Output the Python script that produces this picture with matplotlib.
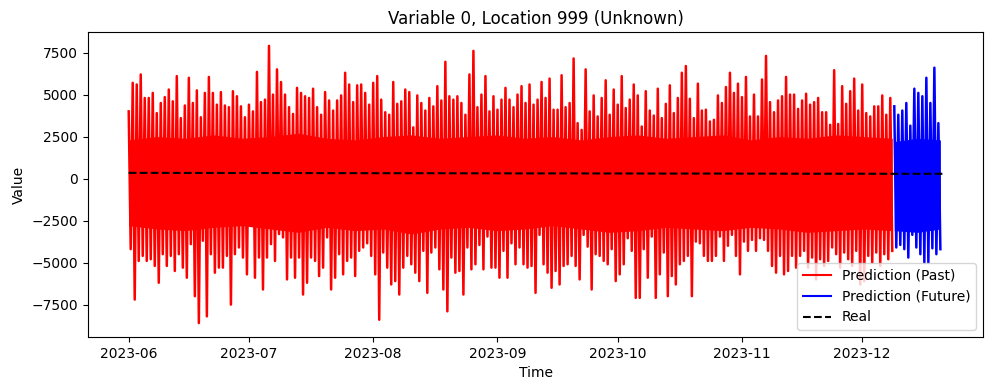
import numpy as np
import pandas as pd
import matplotlib
matplotlib.use("Agg")
import matplotlib.pyplot as plt

# Daily spike heights (past window, 2023-06-01 .. 2023-12-09)
past_high = [
    4000, 5700, 5600, 6200, 4800, 4800, 5100, 3900, 4500, 4850, 5300, 4600, 6100, 3600, 4350,
    6000, 4500, 5250, 3650, 5100, 6050, 5100, 4400, 5150, 4350, 4250, 5200, 4900, 4300,
    3650, 4400, 4000, 6350, 4550, 4700, 7900, 5000, 6500, 5750, 5000, 4250, 3850, 5400, 5100,
    4900, 4800, 5350, 4250, 3800, 5150, 4650, 4050, 4650, 4950, 6300, 5600, 4550, 5550,
    5600, 5100, 4400, 5700, 6100, 4700, 3950, 3800, 5750, 4450, 4600, 5300, 5150, 3050, 4950,
    4500, 4050, 4800, 4300, 5500, 4650, 6950, 4900, 4700, 4900, 4500, 3800, 6200, 7600,
    4250, 5000, 6100, 4000, 4900, 4100, 4700, 5400, 4700, 4250, 5000, 5500, 4500, 5600, 4400,
    4700, 5750, 4800, 5950, 4100, 4100, 6150, 4250, 4500, 7150, 3300, 2900, 6500, 4000,
    4950, 3700, 4800, 5850, 3800, 5300, 4400, 6100, 4200, 4700, 5600, 4950, 3100, 5200, 4050,
    3750, 5350, 3600, 4450, 5550, 3900, 4800, 6300, 6700, 4750, 3600, 5650, 4050, 4100,
    3400, 3500, 4950, 4500, 5450, 6300, 5100, 5650, 4850, 6050, 3700, 5000, 3700, 5900, 7300,
    4550, 3950, 4650, 4900, 6050, 5000, 5000, 4150, 4650, 5050, 4400, 4550, 4800, 3950,
    3950, 3200, 6450, 3250, 5500, 4450, 5200, 5950, 4050, 5600, 3900, 3700, 4300, 4300, 4950,
    3800, 4800,
]
past_low = [
    -4200, -7200, -4900, -4600, -4900, -4800, -5200, -6200, -4500, -5200, -4600, -5500, -4500,
    -5300, -5900, -3900, -7000, -8600, -3700, -8200, -4500, -5600, -5300, -5300, -4600, -7500,
    -4500, -4100, -4700,
    -5700, -2700, -5900, -4700, -6600, -4700, -3900, -4900, -3300, -3500, -6000, -4700, -5900,
    -4700, -6900, -6200, -4700, -4900, -5800, -5300, -3500, -6600, -5900, -4500, -5700, -4900,
    -4700, -5800, -4300,
    -4100, -3850, -4600, -5700, -8400, -4400, -5300, -6300, -6100, -6900, -5300, -4600, -5100,
    -5600, -6100, -4300, -6800, -4400, -4100, -5400, -6600, -7900, -4700, -5600, -5500, -6900,
    -4100, -5400, -5100,
    -3950, -5400, -3450, -5300, -5300, -5900, -4300, -5900, -3850, -5100, -4100, -5100, -5300,
    -5200, -6800, -3350, -5100, -5600, -6500, -5500, -6300, -5200, -5100, -4600, -5200, -6000,
    -3350, -4050, -6600,
    -4500, -4600, -4900, -5100, -4200, -6100, -5700, -5100, -3550, -4300, -7100, -7100, -4200,
    -5900, -3450, -7100, -5700, -4400, -7000, -5800, -6300, -5100, -4900, -4600, -7000, -3750,
    -3850, -4600, -4900,
    -4900, -4600, -3450, -4900, -4000, -3350, -4600, -5700, -3750, -4300, -3650, -4300, -3550,
    -3650, -4300, -5200, -5600, -4600, -5700, -5500, -4600, -5300, -4600, -4300, -5300, -4700,
    -6000, -4800, -5200,
    -4900, -4100, -4500, -5300, -4400, -4800, -5200, -4300, -6300, -6100, -4600, -5000, -4400,
    -5200, -4500, -4800, -4300,
]

# dense band where most hourly values sit (roughly weekly readings)
past_core_upper = [2300, 2500, 2400, 2600, 2400, 2500, 2700, 2400, 2300, 2500, 2600, 2400,
                   2500, 2600, 2400, 2500, 2300, 2500, 2600, 2400, 2500, 2600, 2300, 2500,
                   2400, 2600, 2500, 2400]
past_core_lower = [-2800, -3000, -3100, -2900, -2800, -3000, -3200, -2900, -3100, -3000, -3300,
                   -3000, -2900, -3100, -3000, -2800, -3000, -3200, -3100, -2900, -3000, -3100,
                   -2900, -3000, -3200, -3100, -3000, -3100]

# Forecast window (after 2023-12-09)
future_high = [4300, 3800, 4050, 4500, 3150, 5350, 5100, 4900, 6000, 4500, 6600, 3300]
future_low = [-4100, -3950, -4200, -4700, -3350, -4100, -4500, -5000, -5000, -4150, -4500, -4200]
future_core_upper = [2200, 2400, 2300]
future_core_lower = [-3100, -3200, -3000]

# Real values (weekly)
real_values = [340, 340, 335, 335, 330, 330, 330, 325, 325, 320, 320, 320, 315, 315, 310,
               310, 310, 305, 305, 300, 300, 300, 295, 295, 290, 290, 290, 285, 285, 285]
real_dates = pd.date_range("2023-06-01", periods=len(real_values), freq="7D")

# interleave high/low, one every 12 hours
past_vals = np.column_stack([past_high, past_low]).ravel()
past_time = pd.date_range("2023-06-01", periods=len(past_vals), freq="12h")
past_core_time = pd.date_range(past_time[0], past_time[-1], periods=len(past_core_upper))

future_vals = np.column_stack([future_high, future_low]).ravel()
future_time = pd.date_range(past_time[-1] + pd.Timedelta(hours=12),
                            periods=len(future_vals), freq="12h")
future_core_time = pd.date_range(future_time[0], future_time[-1],
                                 periods=len(future_core_upper))

fig = plt.figure(figsize=(9.89, 3.9), dpi=100)
ax = fig.add_subplot(111)

ax.fill_between(past_core_time, past_core_lower, past_core_upper, color="red", lw=0)
ax.fill_between(future_core_time, future_core_lower, future_core_upper, color="blue", lw=0)
ax.plot(past_time, past_vals, color="red", linewidth=1.8, label="Prediction (Past)")
ax.plot(future_time, future_vals, color="blue", linewidth=1.8, label="Prediction (Future)")
ax.plot(real_dates, real_values, "k--", label="Real")

ax.set_title("Variable 0, Location 999 (Unknown)")
ax.set_xlabel("Time")
ax.set_ylabel("Value")
leg = ax.legend(loc="lower right")
for line in leg.get_lines():
    line.set_linewidth(1.5)

fig.subplots_adjust(left=0.089, right=0.994, top=0.918, bottom=0.136)

fig.savefig("out.png")
